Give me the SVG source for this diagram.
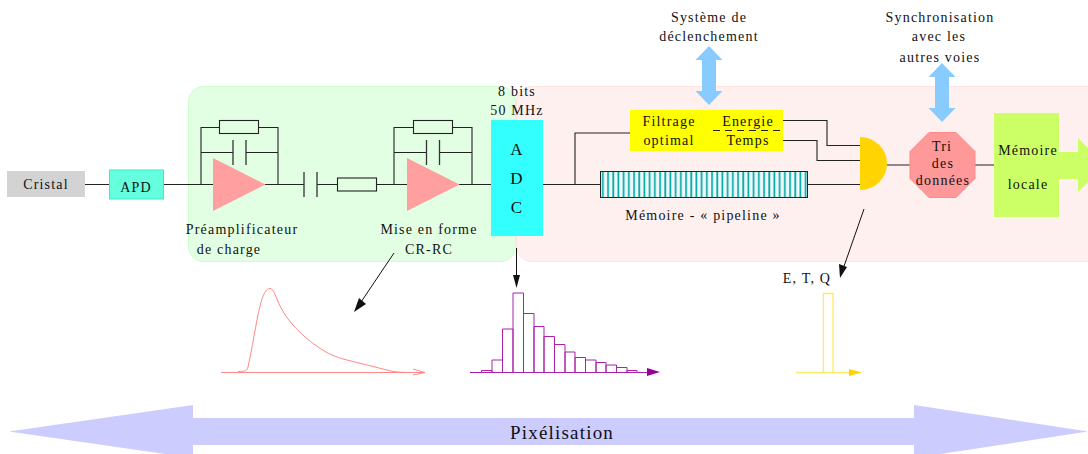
<svg xmlns="http://www.w3.org/2000/svg" width="1088" height="454" viewBox="0 0 1088 454">
<style>
text{font-family:"Liberation Serif","Times New Roman",serif;font-size:14px;letter-spacing:1.2px;fill:#111;text-anchor:middle}
.w{fill:none;stroke:#222;stroke-width:1.1}
.r{fill:none;stroke:#222;stroke-width:1.1}
.cap{fill:none;stroke:#333;stroke-width:1.3}
.tri{fill:#ff9f9f}
.blue{fill:#88ccff}
.a{stroke:#111;stroke-width:1;fill:none}
.h{fill:none;stroke:#aa22aa;stroke-width:1}
</style>
<defs>
<pattern id="st" patternUnits="userSpaceOnUse" x="600" y="0" width="5.2" height="10">
<rect width="5.2" height="10" fill="#eef8f8"/><rect x="2" width="1.7" height="10" fill="#00a8a8"/>
</pattern>
</defs>
<g id="panels">
<rect x="188.500" y="86.500" width="327" height="175" rx="15" fill="#e3ffe3" stroke="#ccffcc"/>
<rect x="516.500" y="86.500" width="600" height="175" rx="15" fill="#fff0f0" stroke="#ffe2e2"/>
</g>
<g id="connectors">
<path class="w" d="M85,184.500H109M163,184.500H213M265,184.500H304M317,184.500H337M376,184.500H407M459,184.500H491"/>
<path class="w" d="M201,184.500V127.500H219M258,127.500H278V184.500M201,152.500H233M246,152.500H278"/>
<path class="w" d="M394,184.500V127.500H413M452,127.500H472V184.500M394,152.500H426.500M439.500,152.500H472"/>
<path class="w" d="M543,184.500H600M575,184.500V133H630M808,184.500H860"/>
<path class="w" d="M783,120.500H827V145.500H860M783,140.500H817V160.500H860M887,165H910M975,165H994"/>
<path class="a" d="M394,253L357,308"/><path d="M354,312L359,298L366,304Z" fill="#111"/>
<path class="a" stroke-width="1.2" d="M516.500,248V275"/><path d="M513,275H520L516.500,288Z" fill="#111"/>
<path class="a" d="M864,209L842,272"/><path d="M840,278L839,264L847,267Z" fill="#111"/>
</g>
<g id="cristal"><rect x="7" y="171" width="78" height="26" fill="#d3d3d3"/><text x="46" y="189">Cristal</text></g>
<g id="apd"><rect x="109.500" y="170" width="54" height="29" fill="#66ffdd" stroke="#33eecc"/><text x="136" y="192">APD</text></g>
<g id="preamp">
<rect class="r" x="219.500" y="120.500" width="39" height="13" fill="none"/>
<path class="cap" d="M233,140V165M246,140V165"/>
<path class="tri" d="M213,158L265.500,184.500L213,211Z"/>
<text x="242" y="234">Préamplificateur</text><text x="229" y="254">de charge</text>
</g>
<g id="cr"><path class="cap" d="M304,172V197M317,172V197"/><rect class="r" x="337.500" y="178" width="39" height="13"/></g>
<g id="shaper">
<rect class="r" x="413.500" y="120.500" width="39" height="13"/>
<path class="cap" d="M426.500,140V165M439.500,140V165"/>
<path class="tri" d="M407,158L459.500,184.500L407,211Z"/>
<text x="429" y="234">Mise en forme</text><text x="429" y="254">CR-RC</text>
</g>
<g id="adc">
<text x="517" y="96">8 bits</text><text x="517" y="115">50 MHz</text>
<rect x="491" y="120" width="52" height="116" fill="#33ffff"/>
<text x="517" y="155" style="font-size:17px">A</text><text x="517" y="184" style="font-size:17px">D</text><text x="517" y="213" style="font-size:17px">C</text>
</g>
<g id="filtrage">
<rect x="630" y="110" width="153" height="41" fill="#ffff00"/>
<path d="M713,130.500H783" fill="none" stroke="#222" stroke-dasharray="7 5"/>
<text x="669" y="126">Filtrage</text><text x="669" y="145">optimal</text>
<text x="748" y="126">Energie</text><text x="748" y="145">Temps</text>
</g>
<g id="pipeline">
<rect x="600.500" y="171.500" width="207" height="26" fill="url(#st)" stroke="#222"/>
<text x="703" y="220">Mémoire - « pipeline »</text>
</g>
<g id="gate"><path d="M860,137A27,26.500 0 0 1 860,190Z" fill="#ffd400"/></g>
<g id="tri-donnees">
<path d="M929,132.500H956L975,151.500V178.500L956,197.500H929L910,178.500V151.500Z" fill="#ff9999" stroke="#ff8888"/>
<text x="942" y="151">Tri</text><text x="943" y="168">des</text><text x="943" y="185">données</text>
</g>
<g id="memoire">
<path d="M994,113H1059V152H1078V138L1105,165L1078,192V179H1059V217H994Z" fill="#ccff66"/>
<text x="1028" y="155">Mémoire</text><text x="1028" y="189">locale</text>
</g>
<g id="declenchement">
<text x="709" y="22">Système de</text><text x="709" y="41">déclenchement</text>
<path class="blue" d="M709,46L722.500,60H716V91H722.500L709,105L695.500,91H702V60H695.500Z"/>
</g>
<g id="synchronisation">
<text x="940" y="22">Synchronisation</text><text x="939" y="41">avec les</text><text x="940" y="62">autres voies</text>
<path class="blue" d="M942,63L955.500,77H949V108H955.500L942,122L928.500,108H935V77H928.500Z"/>
</g>
<g id="impulsion" fill="none" stroke="#ff8888">
<path d="M221,372.500H415"/>
<path d="M238,371.500C245,371.500 247,371 248,367C252,350 256,322 260,306C263,294 266,288.500 270,288.500C274,288.500 276,298 280,306C288,322 302,336 318,347C328,354 336,357 345,359.500L393,371.500C400,372.500 410,372.500 424,372.500"/>
<path d="M413,369L425,372.500L413,375"/>
</g>
<g id="histogramme">
<path class="h" stroke-width="1.6" d="M470,372.500H650"/>
<path class="h" d="M481.500,372V370.500H492V372M492,372V360H502.500V372M502.500,372V329H513V372M513,372V293H523.500V372M523.500,372V313.500H534V372M534,372V326.500H544V372M544,372V336.500H554.500V372M554.500,372V344.500H565V372M565,372V352H575V372M575,372V357.500H585.500V372M585.500,372V360H596V372M596,372V362.500H606V372M606,372V365H616.500V372M616.500,372V367.500H627V372M627,372V370.500H637V372"/>
<path d="M647,368L660,372L647,376Z" fill="#990099"/>
</g>
<g id="sortie">
<text x="807" y="283">E, T, Q</text>
<path d="M796,372.500H851M823.500,372.500V293.500H833V372.500" fill="none" stroke="#ffe866" stroke-width="1.3"/>
<path d="M849,369L862,372.500L849,376Z" fill="#ffd400"/>
</g>
<g id="pixelisation">
<path d="M9,431.500L193,405V418H914V405L1088,431.500L914,458V445H193V458Z" fill="#ccccff"/>
<text x="562" y="439" style="font-size:19px">Pixélisation</text>
</g>
</svg>
